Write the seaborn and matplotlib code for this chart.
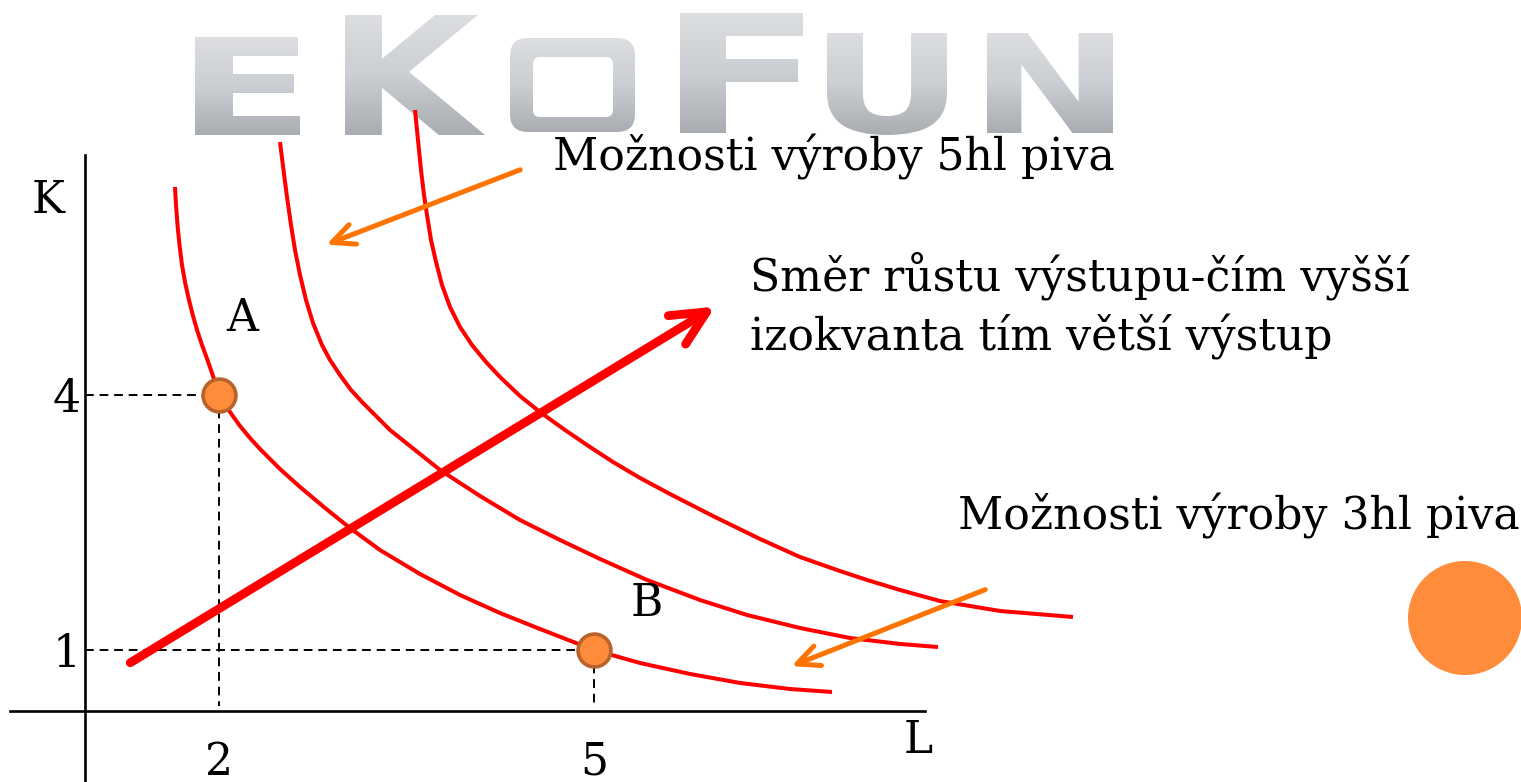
import numpy as np
import pandas as pd
import matplotlib
matplotlib.use("Agg")
import matplotlib.pyplot as plt
import seaborn as sns
from matplotlib.patches import Circle, PathPatch, FancyBboxPatch
from matplotlib.textpath import TextPath
from matplotlib.font_manager import FontProperties
from matplotlib.transforms import Affine2D
from matplotlib.colors import LinearSegmentedColormap

# ---- isoquants: labour L vs capital K ----
q3hl_L = [1.648, 1.656, 1.668, 1.684, 1.704, 1.728, 1.756, 1.788, 1.824, 1.864, 1.908,
          1.952, 2.000, 2.088, 2.168, 2.248, 2.328, 2.488, 2.648, 2.848, 3.048, 3.288,
          3.608, 3.928, 4.248, 4.568, 5.000, 5.368, 5.768, 6.168, 6.568, 6.904]
q3hl_K = [6.447, 6.235, 6.000, 5.765, 5.529, 5.329, 5.141, 4.953, 4.765, 4.588, 4.412,
          4.224, 4.000, 3.800, 3.635, 3.494, 3.365, 3.129, 2.918, 2.671, 2.435, 2.176,
          1.894, 1.647, 1.435, 1.247, 1.000, 0.847, 0.718, 0.612, 0.541, 0.506]

q5hl_L = [2.488, 2.516, 2.544, 2.576, 2.608, 2.648, 2.696, 2.752, 2.824, 2.888, 2.968,
          3.056, 3.144, 3.248, 3.368, 3.568, 3.768, 4.088, 4.408, 4.728, 5.048, 5.424,
          5.848, 6.224, 6.648, 7.048, 7.448, 7.752]
q5hl_K = [6.976, 6.647, 6.329, 6.000, 5.706, 5.412, 5.118, 4.847, 4.588, 4.412, 4.235,
          4.059, 3.918, 3.765, 3.588, 3.353, 3.118, 2.812, 2.529, 2.294, 2.071, 1.824,
          1.588, 1.412, 1.259, 1.141, 1.071, 1.035]

qhigh_L = [3.568, 3.592, 3.616, 3.640, 3.664, 3.696, 3.736, 3.784, 3.848, 3.928, 4.024,
           4.136, 4.248, 4.408, 4.568, 4.768, 4.968, 5.152, 5.368, 5.608, 5.952, 6.328,
           6.648, 6.968, 7.184, 7.448, 7.768, 8.248, 8.832]
qhigh_K = [7.353, 7.000, 6.647, 6.353, 6.118, 5.824, 5.565, 5.294, 5.035, 4.800, 4.588,
           4.388, 4.212, 3.988, 3.800, 3.588, 3.388, 3.212, 3.024, 2.835, 2.576, 2.306,
           2.094, 1.929, 1.824, 1.706, 1.576, 1.459, 1.388]

# combinations of inputs marked on the lowest isoquant
point_names = ["A", "B"]
point_L = [2, 5]
point_K = [4, 1]

x_ticks = [2, 5]
y_ticks = [4, 1]

# where the two axes cross
origin_L = 0.93
origin_K = 0.28

# direction of output growth
growth_from = (1.29, 0.85)
growth_to = (5.97, 5.04)

# pointers from the captions to the isoquants
pointer5_from, pointer5_to = (4.41, 6.65), (2.86, 5.77)
pointer3_from, pointer3_to = (8.13, 1.71), (6.58, 0.81)

caption_5hl = "Možnosti výroby 5hl piva"
caption_3hl = "Možnosti výroby 3hl piva"
caption_dir = ["Směr růstu výstupu-čím vyšší", "izokvanta tím větší výstup"]

RED = "#FF0000"
ORANGE = "#FF7300"
DOT = "#FF8C3A"
DOT_EDGE = "#B8622C"
FS = 31.8

sns.set_theme(style="white")
plt.rcParams["font.family"] = ["DejaVu Serif", "DejaVu Sans"]

W, H = 1521, 782
fig = plt.figure(figsize=(W / 100, H / 100), dpi=100)

# background layer in pixel units: logo and decoration
pax = fig.add_axes([0, 0, 1, 1], zorder=0)
pax.set_xlim(0, W)
pax.set_ylim(H, 0)
pax.axis("off")

silver = LinearSegmentedColormap.from_list("silver", ["#DCDEE1", "#CBCED2", "#A9ACB1"])
grad = np.linspace(0, 1, 256).reshape(-1, 1)
logo_font = FontProperties(family="DejaVu Sans", weight="bold")


def silver_fill(patch, box):
    x0, x1, y0, y1 = box
    patch.set_facecolor("none")
    patch.set_edgecolor("none")
    pax.add_patch(patch)
    im = pax.imshow(grad, cmap=silver, extent=[x0, x1, y1, y0], origin="upper",
                    aspect="auto", interpolation="bilinear", zorder=1)
    im.set_clip_path(patch)


logo = [("E", (195, 300, 37, 135)), ("K", (345, 485, 15, 135)),
        ("F", (680, 803, 13, 133)), ("U", (827, 947, 33, 135)),
        ("N", (987, 1113, 33, 133))]
for ch, box in logo:
    x0, x1, y0, y1 = box
    tp = TextPath((0, 0), ch, size=100, prop=logo_font)
    bb = tp.get_extents()
    tr = (Affine2D().translate(-bb.x0, -bb.y0)
          .scale((x1 - x0) / bb.width, -(y1 - y0) / bb.height)
          .translate(x0, y1))
    silver_fill(PathPatch(tr.transform_path(tp)), box)

o_outer = FancyBboxPatch((510, 38), 125, 94, boxstyle="round,pad=0,rounding_size=18")
silver_fill(o_outer, (510, 635, 38, 132))
pax.add_patch(FancyBboxPatch((533, 57), 80, 60, boxstyle="round,pad=0,rounding_size=7",
                             facecolor="white", edgecolor="none", zorder=2))

pax.add_patch(Circle((1465, 618), 57, facecolor=DOT, edgecolor="none", zorder=1))

pax.set_xlim(0, W)
pax.set_ylim(H, 0)

# ---- main diagram in L/K units ----
ax = fig.add_axes([0, 0, 1, 1], zorder=1)
ax.patch.set_alpha(0)
ax.set_xlim(0.248, 12.416)
ax.set_ylim(-0.553, 8.647)

curves = pd.concat([
    pd.DataFrame({"L": q3hl_L, "K": q3hl_K, "izokvanta": "3hl"}),
    pd.DataFrame({"L": q5hl_L, "K": q5hl_K, "izokvanta": "5hl"}),
    pd.DataFrame({"L": qhigh_L, "K": qhigh_K, "izokvanta": "vyšší"}),
])
sns.lineplot(data=curves, x="L", y="K", units="izokvanta", estimator=None, sort=False,
             color=RED, lw=2.9, ax=ax, zorder=3)
for ln in ax.get_lines():
    ln.set_solid_joinstyle("round")
    ln.set_solid_capstyle("butt")

# dashed guides from the marked points to the axes
for L, K in zip(point_L, point_K):
    ax.plot([origin_L, L], [K, K], color="black", lw=1.4, dashes=(4.5, 3), zorder=2)
    ax.plot([L, L], [K, origin_K + 0.06], color="black", lw=1.4, dashes=(4.5, 3), zorder=2)

sns.scatterplot(x=point_L, y=point_K, s=560, color=DOT, edgecolor=DOT_EDGE,
                linewidth=2.6, ax=ax, zorder=6, legend=False)
for name, L, K, off in zip(point_names, point_L, point_K, [(23, 77), (53, 47)]):
    ax.annotate(name, (L, K), xytext=off, textcoords="offset pixels",
                ha="center", va="center", fontsize=FS, color="black")

# growth direction arrow
ax.annotate("", xy=growth_to, xytext=growth_from,
            arrowprops=dict(arrowstyle="->,head_length=2.5,head_width=1.2",
                            lw=6.3, color=RED, shrinkA=0, shrinkB=0,
                            mutation_scale=10, joinstyle="round", capstyle="round"),
            zorder=4)
for a, b in [(pointer5_from, pointer5_to), (pointer3_from, pointer3_to)]:
    ax.annotate("", xy=b, xytext=a,
                arrowprops=dict(arrowstyle="->,head_length=1.6,head_width=0.75",
                                lw=3.6, color=ORANGE, shrinkA=0, shrinkB=0,
                                mutation_scale=10, joinstyle="round", capstyle="round"),
                zorder=5)

# axes crossing at the origin
for side in ["top", "right"]:
    ax.spines[side].set_visible(False)
ax.spines["left"].set_position(("data", origin_L))
ax.spines["bottom"].set_position(("data", origin_K))
ax.spines["left"].set_bounds(-0.553, 6.82)
ax.spines["bottom"].set_bounds(0.33, 7.65)
for side in ["left", "bottom"]:
    ax.spines[side].set_color("black")
    ax.spines[side].set_linewidth(1.9)
    ax.spines[side].set_visible(True)
ax.set_xticks(x_ticks)
ax.set_yticks(y_ticks)
ax.set_xticklabels([str(v) for v in x_ticks])
ax.set_yticklabels([str(v) for v in y_ticks])
ax.tick_params(axis="x", length=0, pad=21, labelsize=FS, colors="black")
ax.tick_params(axis="y", length=0, pad=3, labelsize=FS, colors="black")
ax.set_xlabel("")
ax.set_ylabel("")

ax.text(0.632, 6.294, "K", ha="center", va="center", fontsize=FS, color="black")
ax.text(7.592, -0.059, "L", ha="center", va="center", fontsize=FS, color="black")

ax.text(4.672, 6.647, caption_5hl, ha="left", va="baseline", fontsize=FS, color="black")
for line, base in zip(caption_dir, [5.235, 4.529]):
    ax.text(6.248, base, line, ha="left", va="baseline", fontsize=FS, color="black")
ax.text(7.912, 2.412, caption_3hl, ha="left", va="baseline", fontsize=FS, color="black")

fig.savefig("out.png", dpi=100)
